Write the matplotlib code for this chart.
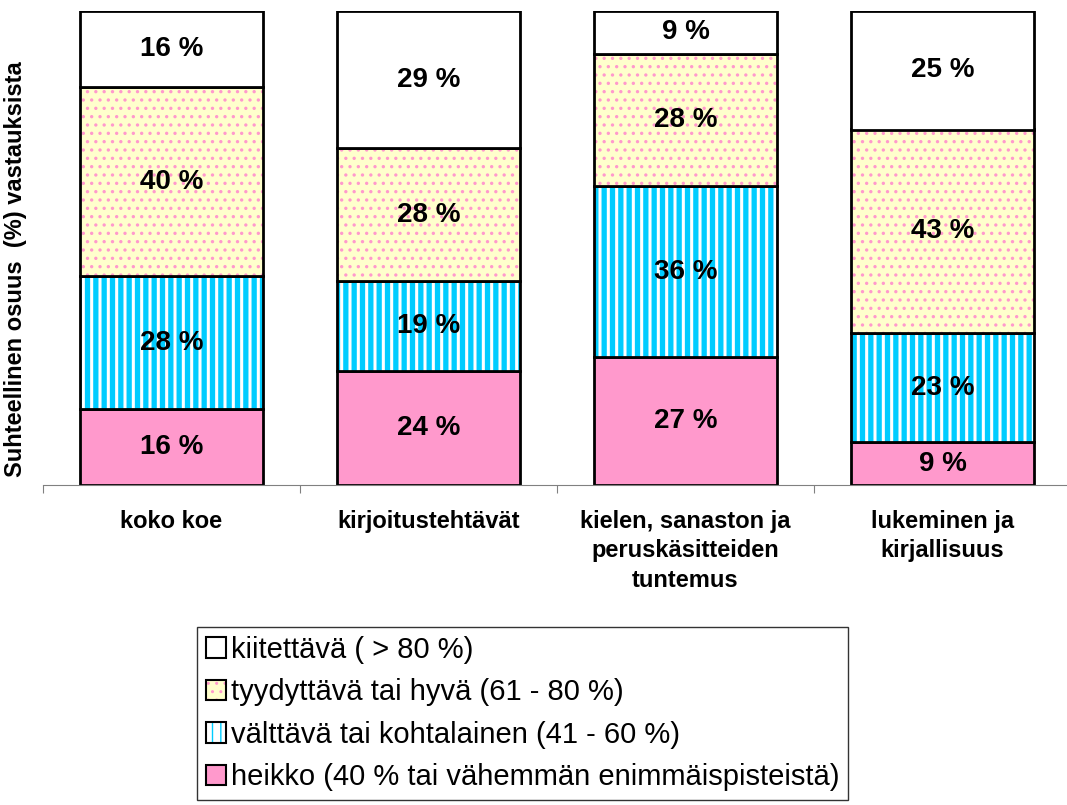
import matplotlib.pyplot as plt
from matplotlib.patches import Patch
import numpy as np

plt.rcParams['font.family'] = ['Liberation Sans', 'DejaVu Sans']

categories = ['koko koe', 'kirjoitustehtävät', 'kielen, sanaston ja\nperuskäsitteiden\ntuntemus', 'lukeminen ja\nkirjallisuus']
heikko = [16, 24, 27, 9]
valttava = [28, 19, 36, 23]
tyydyttava = [40, 28, 28, 43]
kiitettava = [16, 29, 9, 25]

series = [heikko, valttava, tyydyttava, kiitettava]
labels = ['heikko (40 % tai vähemmän enimmäispisteistä)',
          'välttävä tai kohtalainen (41 - 60 %)',
          'tyydyttävä tai hyvä (61 - 80 %)',
          'kiitettävä ( > 80 %)']
faces = ['#FF99CC', 'white', '#FFFFCC', 'white']
hatch_cols = ['#FF99CC', '#00CCFF', '#FF99CC', 'white']
hatches = [None, '||', '..', None]
hatch_lw = [1, 3.8, 1.2, 1]

fig = plt.figure(figsize=(10.67, 8.05), dpi=100)
ax = fig.add_axes([43/1067, 1-485/805, 1028/1067, 474/805])

x = np.arange(len(categories)) + 0.5
w = 0.715
bottom = np.zeros(len(categories))
handles = []
for vals, lab, fc, hc, h, hl in zip(series, labels, faces, hatch_cols, hatches, hatch_lw):
    vals = np.array(vals)
    with plt.rc_context({'hatch.linewidth': hl}):
        bars = ax.bar(x, vals, w, bottom=bottom, color=fc, edgecolor=hc, hatch=h, linewidth=0)
        hp = Patch(facecolor=fc, edgecolor=hc, hatch=h, linewidth=0)
    for p in list(bars) + [hp]:
        if hasattr(p, 'set_hatch_linewidth'):
            p.set_hatch_linewidth(hl)
    ax.bar(x, vals, w, bottom=bottom, fill=False, edgecolor='black', linewidth=2)
    for xi, b, v in zip(x, bottom, vals):
        ax.text(xi, b + v/2, f'{v} %', ha='center', va='center',
                fontsize=20, fontweight='bold')
    handles.append((hp, Patch(fill=False, edgecolor='black', linewidth=1.5)))
    bottom += vals

ax.set_xlim(0, 4)
ax.set_ylim(0, 100)
for s in ['top', 'right', 'left']:
    ax.spines[s].set_visible(False)
ax.spines['bottom'].set_color('#808080')
ax.set_yticks([])
ax.set_xticks([0, 1, 2, 3])
ax.set_xticklabels([])
ax.tick_params(axis='x', which='major', length=6, color='#808080', direction='out')
ax.set_xticks(x, minor=True)
ax.set_xticklabels(categories, minor=True, fontsize=17, fontweight='bold',
                   linespacing=1.35)
ax.tick_params(axis='x', which='minor', length=0, pad=18)

ax.set_ylabel('Suhteellinen osuus  (%) vastauksista', fontsize=17,
              fontweight='bold')
ax.yaxis.set_label_coords(-0.0155, 0.455)

leg = fig.legend(handles[::-1], labels[::-1], loc='lower left',
                 bbox_to_anchor=(197/1067, 5/805), fontsize=21,
                 frameon=True, fancybox=False, edgecolor='black',
                 handlelength=0.7, handleheight=0.7, handletextpad=0.15,
                 labelspacing=0.5, borderpad=0.3, borderaxespad=0)
leg.get_frame().set_linewidth(1)

fig.savefig('out.png', dpi=100)
